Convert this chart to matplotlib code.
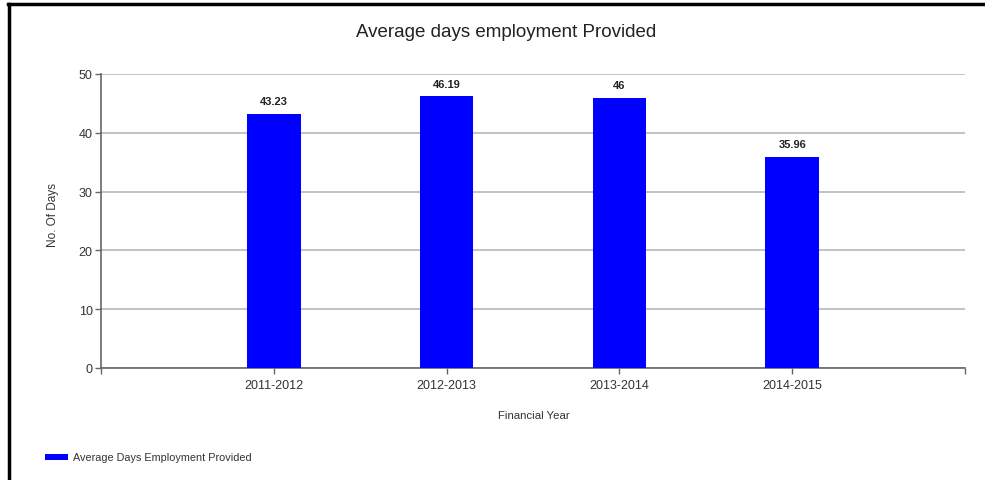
import matplotlib
matplotlib.use("Agg")
import matplotlib.pyplot as plt
from matplotlib.lines import Line2D
from matplotlib.patches import Rectangle

categories = ["2011-2012", "2012-2013", "2013-2014", "2014-2015"]
values = [43.23, 46.19, 46, 35.96]
value_labels = ["43.23", "46.19", "46", "35.96"]
yticks = [0, 10, 20, 30, 40, 50]

plt.rcParams['font.family'] = ['Liberation Sans', 'DejaVu Sans']

fig = plt.figure(figsize=(9.85, 4.81), dpi=100)
ax = fig.add_axes([101/985, 1 - 369/481, (965-101)/985, (369-75)/481])

pos = list(range(1, len(categories) + 1))
ax.bar(pos, values, width=0.31, color="#0000ff", zorder=3)
for p, v, lab in zip(pos, values, value_labels):
    ax.annotate(lab, (p, v), xytext=(0, 5.5), textcoords="offset points",
                ha="center", va="bottom", fontsize=8, fontweight="bold", color="#222222")

ax.set_xlim(0, 5)
ax.set_ylim(0, 50)
ax.set_yticks(yticks)
ax.set_yticklabels([str(t) for t in yticks], fontsize=9, color="#333333")
ax.set_xticks(range(0, 6))
ax.set_xticklabels([""] + categories + [""], fontsize=9, color="#333333")
ax.yaxis.grid(True, color="#b8b8b8", linewidth=1.2, zorder=0)
ax.set_axisbelow(True)
for s in ["top", "right"]:
    ax.spines[s].set_visible(False)
for s in ["left", "bottom"]:
    ax.spines[s].set_color("#666666")
    ax.spines[s].set_linewidth(1.2)
ax.tick_params(axis="both", colors="#666666", labelcolor="#333333", length=4, width=1)
ax.tick_params(axis="y", pad=2)
ax.tick_params(axis="x", pad=4)

fig.text(506/985, 1 - 33/481, "Average days employment Provided", ha="center", va="center",
         fontsize=13.5, color="#222222")
fig.text(53/985, 1 - 215/481, "No. Of Days", rotation=90, ha="center", va="center",
         fontsize=8.5, color="#333333")
fig.text(534/985, 1 - 416/481, "Financial Year", ha="center", va="center",
         fontsize=8.2, color="#333333")

fig.patches.append(Rectangle((45/985, 1 - 461/481), 23/985, 6/481, transform=fig.transFigure,
                             facecolor="#0000ff", edgecolor="none"))
fig.text(73/985, 1 - 458/481, "Average Days Employment Provided", ha="left", va="center",
         fontsize=7.8, color="#333333")

fig.add_artist(Line2D([8/985, 984/985], [1 - 5/481, 1 - 5/481], transform=fig.transFigure,
                      color="black", linewidth=2.5))
fig.add_artist(Line2D([9/985, 9/985], [1 - 5/481, 0], transform=fig.transFigure,
                      color="black", linewidth=2.5))

fig.savefig("out.png", dpi=100)
